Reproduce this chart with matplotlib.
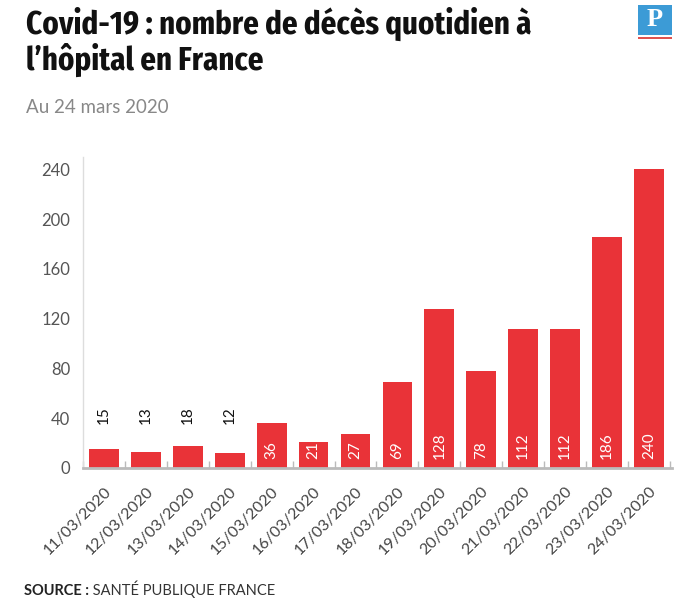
import matplotlib
matplotlib.use("Agg")
import matplotlib.pyplot as plt
from matplotlib.patches import Rectangle
from matplotlib import font_manager as fm
import numpy as np

# ---- data ----
dates = ["11/03/2020", "12/03/2020", "13/03/2020", "14/03/2020", "15/03/2020",
         "16/03/2020", "17/03/2020", "18/03/2020", "19/03/2020", "20/03/2020",
         "21/03/2020", "22/03/2020", "23/03/2020", "24/03/2020"]
deaths = [15, 13, 18, 12, 36, 21, 27, 69, 128, 78, 112, 112, 186, 240]
y_ticks = [0, 40, 80, 120, 160, 200, 240]
stub_ticks = [120, 160, 200, 240]

title_lines = ["Covid-19 : nombre de décès quotidien à", "l\u2019hôpital en France"]
subtitle = "Au 24 mars 2020"
source_bold = "SOURCE :"
source_rest = " SANTÉ PUBLIQUE FRANCE"

RED = "#E93338"
BODY = ["Lato", "DejaVu Sans"]

# pick the narrowest bold font that is installed
def pick_title_font():
    best = None
    for f in fm.fontManager.ttflist:
        name = f.name.lower().replace(" ", "")
        fn = f.fname.lower().replace(" ", "").replace("-", "").replace("_", "")
        st = str(f.stretch)
        tag = name + " " + fn
        if "extracondensed" in tag or "ultracondensed" in tag or st in ("extra-condensed", "ultra-condensed"):
            narrow_rank = 0
        elif "semicondensed" in tag or st == "semi-condensed":
            narrow_rank = 2
        elif "condensed" in tag or "narrow" in tag or st == "condensed":
            narrow_rank = 1
        else:
            continue
        try:
            w = int(f.weight)
        except Exception:
            w = 700 if "bold" in str(f.weight) else 400
        score = abs(w - 700) + narrow_rank * 10
        if "italic" in fn or "oblique" in fn:
            score += 1000
        if best is None or score < best[0]:
            best = (score, f.fname)
    if best is not None:
        return fm.FontProperties(fname=best[1])
    return fm.FontProperties(family=["Roboto", "DejaVu Sans"], weight="bold")

W, H = 690, 599
fig = plt.figure(figsize=(W / 100, H / 100), dpi=100)
fig.patch.set_facecolor("white")

ax = fig.add_axes([83 / W, 1 - 468 / H, 589 / W, (468 - 157) / H])
x = np.arange(len(dates))
ax.bar(x, deaths, width=0.71, color=RED, zorder=2)

ax.set_xlim(-0.48, len(dates) - 1 + 0.55)
ax.set_ylim(0, 250)

# value labels
for xi, v in zip(x, deaths):
    if v < 20:
        ax.text(xi, 35, str(v), rotation=90, ha="center", va="bottom",
                fontsize=11, color="#111111", family=BODY)
    else:
        ax.text(xi, 7, str(v), rotation=90, ha="center", va="bottom",
                fontsize=11, color="white", family=BODY)

# spines
for s in ["top", "right"]:
    ax.spines[s].set_visible(False)
ax.spines["left"].set_color("#dddddd")
ax.spines["left"].set_linewidth(1.0)
ax.spines["bottom"].set_color("#bbbbbb")
ax.spines["bottom"].set_linewidth(2.0)
ax.spines["bottom"].set_zorder(3)

# y ticks
ax.set_yticks(y_ticks)
ax.set_yticklabels([str(t) for t in y_ticks], family=BODY, fontsize=12,
                   color="#555555")
ax.tick_params(axis="y", which="major", length=0, pad=9)
ax.set_yticks(stub_ticks, minor=True)
ax.tick_params(axis="y", which="minor", direction="in", length=11, width=0.8, color="#cccccc")

# x ticks
ax.set_xticks(x)
ax.set_xticklabels(dates, rotation=45, ha="right", va="top", rotation_mode="anchor",
                   family=BODY, fontsize=11.5, color="#444444")
ax.tick_params(axis="x", which="major", length=0, pad=12)
ax.set_xticks(np.arange(-0.5, len(dates), 1.0), minor=True)
ax.tick_params(axis="x", which="minor", direction="in", length=5, width=1.0, color="#bbbbbb")

# title (fit first line to its reference width)
tp = pick_title_font()
tp.set_size(24)
t_a = fig.text(26 / W, 1 - 34 / H, title_lines[0], ha="left", va="baseline",
               fontproperties=tp, color="#111111")
fig.canvas.draw()
r = fig.canvas.get_renderer()
wpx = t_a.get_window_extent(r).width
size = 24 * 506 / wpx
size = min(size, 30)
t_a.set_fontsize(size)
t_b = fig.text(26 / W, 1 - 70 / H, title_lines[1], ha="left", va="baseline",
               fontproperties=tp, color="#111111")
t_b.set_fontsize(size)

fig.text(26 / W, 1 - 113 / H, subtitle, ha="left", va="baseline", fontsize=13.5,
         family=BODY, color="#888888")

# logo
fig.patches.append(Rectangle((638 / W, 1 - 35 / H), 34 / W, 30 / H,
                             transform=fig.transFigure, facecolor="#3C9BD6",
                             edgecolor="none"))
fig.patches.append(Rectangle((638 / W, 1 - 39 / H), 34 / W, 2 / H,
                             transform=fig.transFigure, facecolor="#E0524F",
                             edgecolor="none"))
fig.text(655 / W, 1 - 20 / H, "P", ha="center", va="center", fontsize=19,
         fontweight="bold", family=["Liberation Serif", "DejaVu Serif"], color="white")

# source
t1 = fig.text(24 / W, 1 - 595 / H, source_bold, ha="left", va="baseline", fontsize=10.5,
              fontweight="bold", family=BODY, color="#222222")
fig.canvas.draw()
bb = t1.get_window_extent(fig.canvas.get_renderer())
fig.text(bb.x1 / W, 1 - 595 / H, source_rest, ha="left", va="baseline", fontsize=10.5,
         family=BODY, color="#333333")

fig.savefig("out.png", dpi=100, facecolor="white")
